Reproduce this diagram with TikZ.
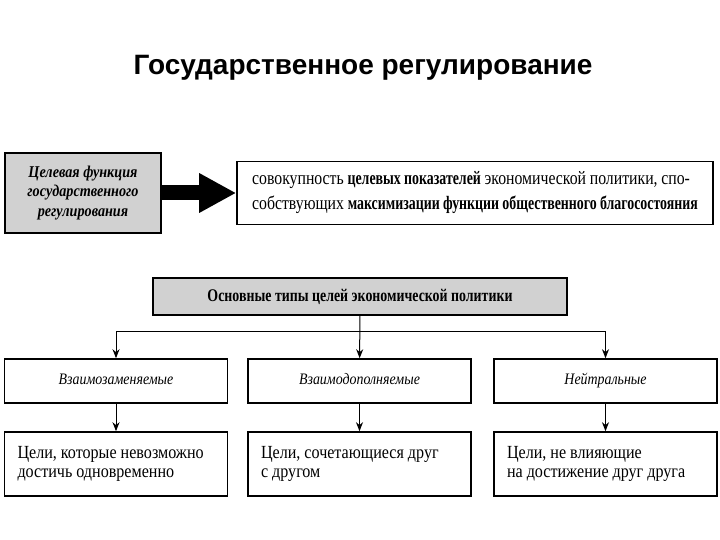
\documentclass[tikz,border=0pt]{standalone}
\usepackage{fontspec}
\setmainfont{Liberation Serif}[FakeStretch=0.87,
  BoldFeatures={FakeStretch=0.78}, BoldItalicFeatures={FakeStretch=0.86}]
\newfontfamily\narrowfont{Liberation Serif}[FakeStretch=0.83, WordSpace=0.95,
  BoldFeatures={FakeStretch=0.73}]
\newfontfamily\titlefont{Liberation Sans}
\usetikzlibrary{arrows.meta}
\tikzset{
  box/.style = {draw, line width=1.6pt, inner sep=0pt},
  gray box/.style = {box, fill=black!18},
  type box/.style = {box, minimum width=223pt, minimum height=44pt,
    text height=11pt, text depth=3.5pt, font=\fontsize{16}{19}\selectfont\itshape},
  note box/.style = {box, minimum width=223pt, minimum height=64pt,
    text width=197pt, align=flush left, font=\fontsize{18.5}{19.5}\selectfont},
  link/.style = {line width=1pt, -{Stealth[length=9pt,width=7pt]}},
  big arrow/.style = {line width=15pt, -{Triangle[length=37pt,width=37pt]}}
}

\begin{document}
\begin{tikzpicture}[x=1pt,y=-1pt]
  \useasboundingbox (0,0) rectangle (720,540);

  \node[font=\titlefont\bfseries\fontsize{28}{32}\selectfont] (title) at (363,68) {Государственное регулирование};

  % upper row
  \node[gray box, minimum width=156pt, minimum height=80pt, align=flush center,
    font=\fontsize{16.5}{19.5}\selectfont\bfseries\itshape] (goal) at (83,193)
    {Целевая функция\\государственного\\регулирования};
  \node[box, minimum width=476pt, minimum height=63pt, align=flush left,
    font=\narrowfont\fontsize{19}{25}\selectfont] (sum) at (475,193)
    {совокупность \textbf{целевых показателей} экономической политики, спо-\\собствующих \textbf{максимизации функции общественного благосостояния}};
  \draw[big arrow] (goal) -- (sum);

  % types of goals
  \node[gray box, minimum width=414pt, minimum height=37pt,
    font=\fontsize{17.8}{20}\selectfont\bfseries] (types) at (360,296.5)
    {Основные типы целей экономической политики};

  \node[type box] (t1) at (116,381) {Взаимозаменяемые};
  \node[type box] (t2) at (359.5,381) {Взаимодополняемые};
  \node[type box] (t3) at (605.5,381) {Нейтральные};

  \node[note box] (n1) at (116,464) {Цели, которые невозможно\\достичь одновременно};
  \node[note box] (n2) at (359.5,464) {Цели, сочетающиеся друг\\с другом};
  \node[note box] (n3) at (605.5,464) {Цели, не влияющие\\на достижение друг друга};

  \coordinate (bus) at (0,331);
  \draw[line width=1pt] (t1.north |- bus) -- (t3.north |- bus);
  \draw[link] (types) -- (t2);
  \draw[link] (t1.north |- bus) -- (t1);
  \draw[link] (t3.north |- bus) -- (t3);

  \draw[link] (t1) -- (n1);
  \draw[link] (t2) -- (n2);
  \draw[link] (t3) -- (n3);
\end{tikzpicture}
\end{document}
